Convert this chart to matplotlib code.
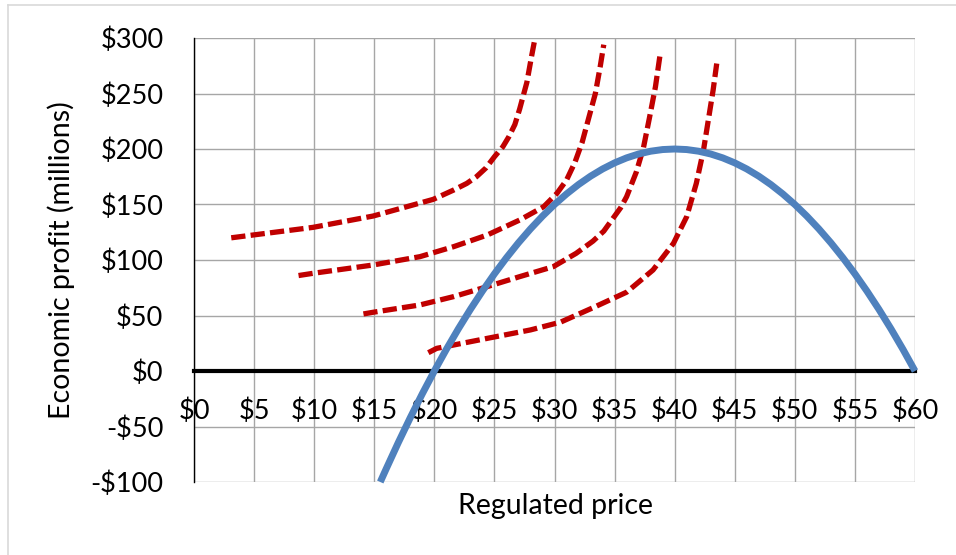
import matplotlib
matplotlib.use("Agg")
from matplotlib import pyplot as plt
from matplotlib.lines import Line2D

# profit curve (blue)
profit_price = [15.5, 16, 17, 18, 19, 20, 21, 22, 23, 24, 25, 26, 27, 28, 29, 30,
                31, 32, 33, 34, 35, 36, 37, 38, 39, 40, 41, 42, 43, 44, 45,
                46, 47, 48, 49, 50, 51, 52, 53, 54, 55, 56, 57, 58, 59, 60]
profit_value = [-100, -88, -64.5, -42, -20.5, 0, 19.5, 38, 55.5, 72, 87.5, 102, 115.5, 128, 139.5, 150,
                159.5, 168, 175.5, 182, 187.5, 192, 195.5, 198, 199.5, 200, 199.5, 198, 195.5, 192, 187.5,
                182, 175.5, 168, 159.5, 150, 139.5, 128, 115.5, 102, 87.5, 72, 55.5, 38, 19.5, 0]

# red dashed curves
curve1_x = [3.1, 4.9, 9.9, 14.9, 17.7, 19.9, 21.6, 22.7, 23.5, 24.3, 25.0, 25.7, 26.2, 26.7,
            27.1, 27.7, 28.1, 28.4]
curve1_y = [120, 122.5, 129.4, 139.6, 148, 154.6, 163, 169, 175, 183, 193, 202, 211, 222,
            236, 260, 284, 301]
curve2_x = [8.7, 9.9, 14.9, 18.8, 21.6, 24.4, 27.1, 29.1, 30.2, 31.0, 31.7, 32.3, 32.8, 33.4,
            33.8, 34.1]
curve2_y = [86, 88, 95.5, 103, 112, 122.5, 136, 148, 160, 172, 188, 206, 226, 250, 274, 294]
curve3_x = [14.1, 14.9, 18.8, 21.6, 24.4, 27.1, 29.9, 31.8, 33.2, 34.1, 34.9, 35.5, 36.0, 36.8,
            37.4, 37.9, 38.4, 38.8]
curve3_y = [51.4, 52.9, 59.5, 67, 76, 85, 94, 106, 117, 126, 138, 147, 157, 179, 201, 228, 256, 286]
curve4_x = [19.5, 20.2, 24.4, 28.0, 30.5, 33.2, 36.0, 38.2, 39.9, 41.0, 41.8, 42.4, 42.8, 43.2, 43.5]
curve4_y = [16.5, 20.4, 29.4, 37, 44, 57, 71, 91, 115, 139, 169, 199, 226, 253, 277]

x_ticks = list(range(0, 61, 5))
y_ticks = list(range(-100, 301, 50))


def money(v):
    return "-$%d" % abs(v) if v < 0 else "$%d" % v


def main():
    plt.rcParams['font.family'] = ['Lato', 'DejaVu Sans']
    fig = plt.figure(figsize=(9.56, 5.55), dpi=100)
    ax = fig.add_axes([194 / 956, 1 - 482 / 555, 721 / 956, 444 / 555])

    ax.set_xlim(0, 60)
    ax.set_ylim(-100, 300)
    ax.set_xticks(x_ticks)
    ax.set_yticks(y_ticks)
    ax.set_xticklabels([money(v) for v in x_ticks])
    ax.set_yticklabels([money(v) for v in y_ticks])
    ax.grid(True, color="#A6A6A6", linewidth=1.0)
    ax.set_axisbelow(True)

    for s in ["top", "right"]:
        ax.spines[s].set_visible(False)
    ax.spines["left"].set_color("black")
    ax.spines["left"].set_linewidth(1.0)
    ax.spines["bottom"].set_position(("data", 0))
    ax.spines["bottom"].set_color("black")
    ax.spines["bottom"].set_linewidth(3.0)
    ax.spines["bottom"].set_zorder(2)
    ax.tick_params(length=0, labelsize=19.5, colors="black")
    ax.tick_params(axis="x", pad=20)
    ax.tick_params(axis="y", pad=22)

    dash = (2.7, 1.0)
    for cx, cy in [(curve1_x, curve1_y), (curve2_x, curve2_y),
                   (curve3_x, curve3_y), (curve4_x, curve4_y)]:
        ax.plot(cx, cy, color="#C00000", linewidth=3.8, linestyle=(0, dash),
                dash_capstyle="butt", solid_joinstyle="round", zorder=3)

    ax.plot(profit_price, profit_value, color="#4F81BD", linewidth=5.0,
            solid_capstyle="butt", zorder=4, clip_on=False)

    fig.text(555 / 956, 1 - 506 / 555, "Regulated price", fontsize=20.5,
             ha="center", va="center")
    fig.text(61 / 956, 1 - 260 / 555, "Economic profit (millions)", fontsize=20.5,
             ha="center", va="center", rotation=90)

    # chart frame (top and left edges visible)
    fig.add_artist(Line2D([8 / 956, 1], [1 - 5 / 555, 1 - 5 / 555],
                          transform=fig.transFigure, color="#D9D9D9", linewidth=1.2))
    fig.add_artist(Line2D([8 / 956, 8 / 956], [0, 1 - 5 / 555],
                          transform=fig.transFigure, color="#D9D9D9", linewidth=1.2))

    fig.savefig("out.png", dpi=100)


if __name__ == "__main__":
    main()
